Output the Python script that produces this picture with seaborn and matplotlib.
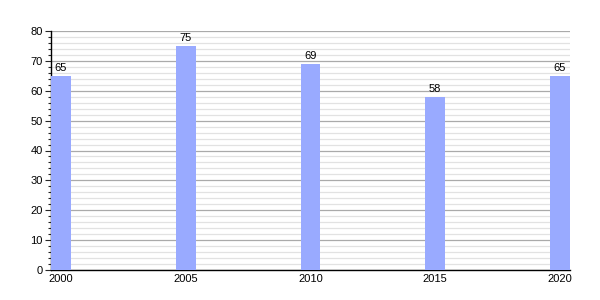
import matplotlib
matplotlib.use("Agg")
import matplotlib.pyplot as plt
import seaborn as sns
import pandas as pd
from matplotlib.ticker import MultipleLocator

years = ["2000", "2005", "2010", "2015", "2020"]
values = [65, 75, 69, 58, 65]

sns.set_style("white")
plt.rcParams['font.family'] = ['Liberation Sans', 'DejaVu Sans']

df = pd.DataFrame({"year": years, "value": values})

fig = plt.figure(figsize=(6, 3), dpi=100)
ax = fig.add_axes([51/600, 30/300, 519/600, 239/300])

sns.barplot(data=df, x="year", y="value", color="#99aaff", saturation=1,
            width=0.16, linewidth=0, edgecolor="none", ax=ax, zorder=3)

for p, v in zip(ax.patches, values):
    ax.text(p.get_x() + p.get_width()/2, v + 1, str(v), ha="center", va="bottom",
            fontsize=8, color="black", zorder=4)

ax.set_xlim(-0.08, 4.08)
ax.set_ylim(0, 80)
ax.yaxis.set_major_locator(MultipleLocator(10))
ax.yaxis.set_minor_locator(MultipleLocator(2))
ax.grid(which="major", axis="y", color="#aaaaaa", linewidth=0.9, zorder=0)
ax.grid(which="minor", axis="y", color="#e2e2e2", linewidth=0.9, zorder=0)
ax.set_axisbelow(True)
for s in ["top", "right"]:
    ax.spines[s].set_visible(False)
for s in ["left", "bottom"]:
    ax.spines[s].set_color("black")
    ax.spines[s].set_linewidth(1)
ax.tick_params(axis="y", which="major", length=4, width=0.8, labelsize=8,
               labelcolor="black", left=True, pad=2)
ax.tick_params(axis="y", which="minor", length=2, width=0.8, left=True)
ax.tick_params(axis="x", length=0, labelsize=8, labelcolor="black", pad=3)
ax.set_xlabel("")
ax.set_ylabel("")

fig.savefig("out.png", dpi=100)
